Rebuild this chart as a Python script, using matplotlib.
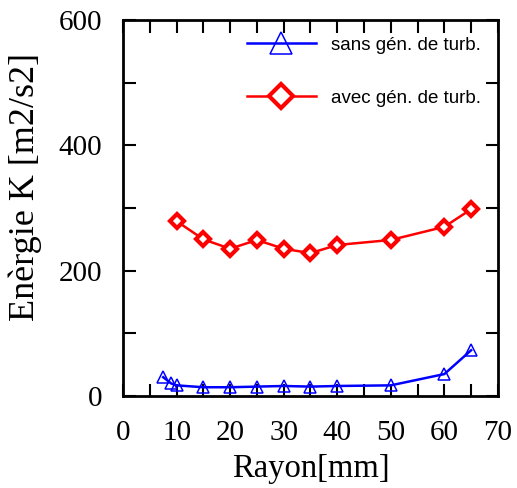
import matplotlib
matplotlib.use("Agg")
import matplotlib.pyplot as plt
from matplotlib.ticker import MultipleLocator

# data
rayon_sans = [7.5, 9, 10, 15, 20, 25, 30, 35, 40, 50, 60, 65]
k_sans = [30, 20, 17, 14, 14, 15, 16, 15, 16, 17, 35, 73]
rayon_avec = [10, 15, 20, 25, 30, 35, 40, 50, 60, 65]
k_avec = [279, 250, 235, 249, 235, 228, 241, 249, 270, 298]

serif = ["Liberation Serif", "DejaVu Serif"]
narrow = ["Liberation Sans Narrow", "Liberation Sans", "DejaVu Sans"]

fig = plt.figure(figsize=(5.17, 4.88), dpi=100)
ax = fig.add_axes([0.238, 0.1885, 0.725, 0.7705])

ax.plot(rayon_sans, k_sans, color="#0000ff", lw=1.8, marker="^", ms=9,
        mfc="none", mec="#0000ff", mew=1.1, label="sans gén. de turb.")
ax.plot(rayon_avec, k_avec, color="#ff0000", lw=1.8, marker="D", ms=7,
        mfc="white", mec="#ff0000", mew=3, label="avec gén. de turb.")

ax.set_xlim(0, 70)
ax.set_ylim(0, 600)
ax.xaxis.set_major_locator(MultipleLocator(10))
ax.xaxis.set_minor_locator(MultipleLocator(5))
ax.yaxis.set_major_locator(MultipleLocator(200))
ax.yaxis.set_minor_locator(MultipleLocator(100))
ax.tick_params(which="both", direction="in", top=True, right=True, width=1.5)
ax.tick_params(which="major", length=9, labelsize=21)
ax.tick_params(which="minor", length=9)
ax.tick_params(axis="x", which="major", pad=17)
ax.tick_params(axis="y", which="major", pad=15)
for lbl in ax.get_xticklabels() + ax.get_yticklabels():
    lbl.set_family(serif)
for s in ax.spines.values():
    s.set_linewidth(2)

ax.set_xlabel("Rayon[mm]", fontsize=23.5, family=serif, labelpad=6)
ax.set_ylabel("Enèrgie K [m2/s2]", fontsize=26, family=serif)
ax.yaxis.set_label_coords(-0.216, 0.556)

leg = ax.legend(loc="upper right", bbox_to_anchor=(1.0, 1.0), frameon=False,
                numpoints=1, handlelength=3.7, labelspacing=1.9, markerscale=1.8,
                prop={"family": narrow, "size": 13.5})

fig.savefig("out.png", dpi=100)
